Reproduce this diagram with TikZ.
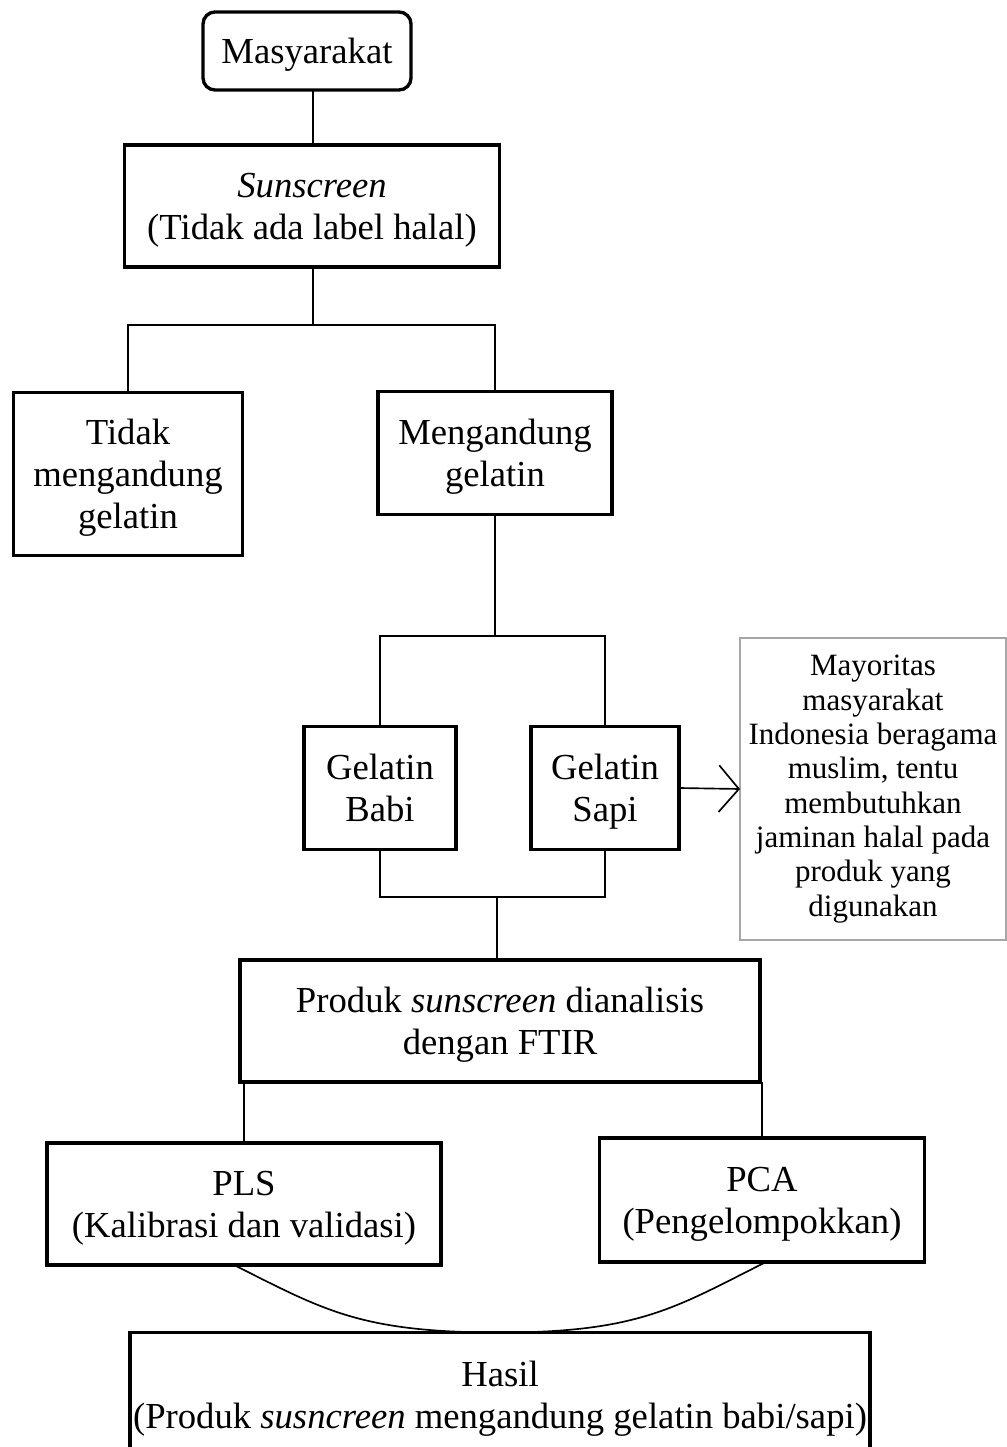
\documentclass[tikz,border=0pt]{standalone}
\usepackage{fontspec}
\setmainfont{Liberation Serif}
\usetikzlibrary{arrows.meta}

\tikzset{
	box/.style={draw, line width=1pt, align=center, inner sep=0pt, outer sep=0pt,
		text depth=0pt, font=\fontsize{11}{12.6}\selectfont},
	startbox/.style={box, rounded corners=3.6pt},
	notebox/.style={draw=gray!70, line width=0.4pt, align=center, inner sep=0pt, outer sep=0pt,
		font=\fontsize{9.3}{10.3}\selectfont},
	link/.style={line width=0.5pt},
	pointer/.style={link, -{Straight Barb[length=6pt, width=14pt]}},
}

\begin{document}
\begin{tikzpicture}[x=0.3pt, y=-0.3pt]
	\useasboundingbox (0,0) rectangle (1006,1447);

	%% TOP
	\node[startbox, minimum width=62.4pt, minimum height=23.4pt] (masy) at (307,51) {Masyarakat};
	\node[box, minimum width=112.5pt, minimum height=36.6pt] (sun) at (312,206)
		{\textit{Sunscreen}\\(Tidak ada label halal)};
	\draw[link] (masy.south -| 313,0) -- (sun.north -| 313,0);

	%% GELATIN OR NOT
	\node[box, minimum width=68.7pt, minimum height=48.9pt] (tidak) at (128,474)
		{Tidak\\mengandung\\gelatin};
	\node[box, minimum width=70.2pt, minimum height=36.9pt] (meng) at (495,453)
		{Mengandung\\gelatin};
	\coordinate (split_sun) at (313,325);
	\draw[link] (sun.south -| split_sun) -- (split_sun);
	\draw[link] (tidak.north) |- (split_sun) -| (meng.north);

	%% SOURCE OF GELATIN
	\node[box, minimum width=45.6pt, minimum height=36.9pt] (babi) at (380,788) {Gelatin\\Babi};
	\node[box, minimum width=44.4pt, minimum height=36.9pt] (sapi) at (605,788) {Gelatin\\Sapi};
	\coordinate (split_meng) at (495,636);
	\draw[link] (meng.south) -- (split_meng);
	\draw[link] (babi.north) |- (split_meng) -| (sapi.north);

	% note on the right
	\node[notebox, minimum width=79.8pt, minimum height=90.6pt] (note) at (873,789)
		{Mayoritas\\masyarakat\\Indonesia beragama\\muslim, tentu\\membutuhkan\\jaminan halal pada\\produk yang\\digunakan};
	\draw[pointer] (sapi.east) -- (note.west);

	%% ANALYSIS
	\node[box, minimum width=156pt, minimum height=36.6pt] (ftir) at (500,1021)
		{Produk \textit{sunscreen} dianalisis\\dengan FTIR};
	\coordinate (join_gel) at (497,897);
	\draw[link] (babi.south) |- (join_gel) -| (sapi.south);
	\draw[link] (join_gel) -- (ftir.north -| join_gel);

	\node[box, minimum width=118.2pt, minimum height=36.6pt] (pls) at (244,1204)
		{PLS\\(Kalibrasi dan validasi)};
	\node[box, minimum width=97.5pt, minimum height=37.2pt] (pca) at (762,1200)
		{PCA\\(Pengelompokkan)};
	\draw[link] (ftir.south -| pls.north) -- (pls.north);
	\draw[link] (ftir.south -| pca.north) -- (pca.north);

	%% RESULT
	\node[box, minimum width=222pt, minimum height=37.5pt] (hasil) at (500,1395)
		{Hasil\\(Produk \textit{susncreen} mengandung gelatin babi/sapi)};
	\draw[link] (pls.south -| 234,0) .. controls +(90,45) and +(-140,0) .. (hasil.north)
		.. controls +(140,0) and +(-90,45) .. (pca.south -| 766,0);

\end{tikzpicture}
\end{document}
